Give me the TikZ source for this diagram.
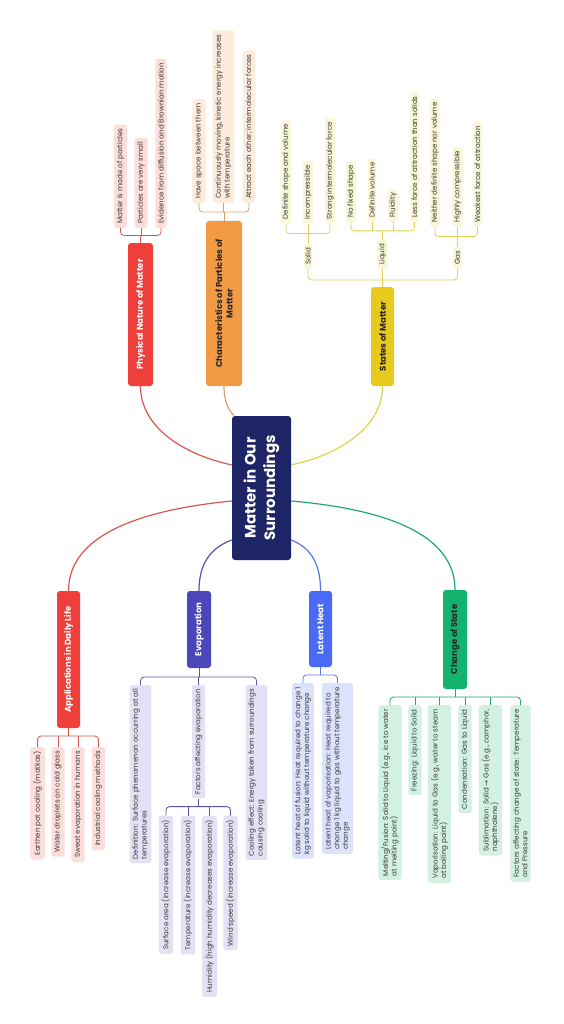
\documentclass[tikz,border=0pt]{standalone}
\usepackage{fontspec}
\setmainfont{Poppins}
\newfontfamily\dejavu{DejaVu Sans}
\usetikzlibrary{calc}
\definecolor{navy}{HTML}{1E2566}
\definecolor{cred}{HTML}{EE3F3A}
\definecolor{redpale}{HTML}{FCDEDC}
\definecolor{redline}{HTML}{D95550}
\definecolor{corange}{HTML}{F39A45}
\definecolor{orangepale}{HTML}{FDEBDB}
\definecolor{orangeline}{HTML}{D6A06A}
\definecolor{cyellow}{HTML}{E8C91E}
\definecolor{yellowpale}{HTML}{FAF6D8}
\definecolor{yellowline}{HTML}{E3D04E}
\definecolor{cindigo}{HTML}{4B46B9}
\definecolor{indigopale}{HTML}{E2E2F4}
\definecolor{indigoline}{HTML}{5656B0}
\definecolor{cblue}{HTML}{4A6AF5}
\definecolor{bluepale}{HTML}{DCE2FB}
\definecolor{blueline}{HTML}{5877E6}
\definecolor{cgreen}{HTML}{14B26F}
\definecolor{greenpale}{HTML}{D3F1E3}
\definecolor{greenline}{HTML}{20A874}
\definecolor{leaftext}{HTML}{3A3A3A}
\begin{document}
\begin{tikzpicture}[x=1pt,y=-1pt,
  topic/.style={rotate=90, rounded corners=3pt, inner sep=0pt, align=center,
    font=\fontsize{8.5}{10.5}\selectfont\bfseries},
  leaf/.style={rotate=90, rounded corners=2.5pt, align=left, inner xsep=4pt, inner ysep=3pt,
    text=leaftext, font=\fontsize{7.1}{8.6}\selectfont},
  rleaf/.style={leaf, fill=redpale},
  oleaf/.style={leaf, fill=orangepale},
  yleaf/.style={leaf, fill=yellowpale, inner ysep=1.5pt},
  ileaf/.style={leaf, fill=indigopale},
  bleaf/.style={leaf, fill=bluepale},
  gleaf/.style={leaf, fill=greenpale},
  conn/.style={line width=0.8pt, rounded corners=3.5pt},
  mainc/.style={line width=1.2pt}
]
\useasboundingbox (0,0) rectangle (563,1024);
\fill[white] (0,0) rectangle (563,1024);

% ---------- central node ----------
\node[rotate=90, fill=navy, text=white, rounded corners=3pt, minimum width=144pt, minimum height=59pt,
  align=center, font=\fontsize{15}{19.5}\selectfont\bfseries] (ctr) at (261.5,488) {Matter in Our\\Surroundings};

% ---------- main topics ----------
\node[topic, fill=cred, text=white, minimum width=143pt, minimum height=25pt] (phys) at (140.5,314.5) {Physical Nature of Matter};
\node[topic, fill=corange, text=black!85, minimum width=165pt, minimum height=36pt] (char) at (224,303.5) {Characteristics of Particles of\\Matter};
\node[topic, fill=cyellow, text=black!85, minimum width=99pt, minimum height=23pt] (states) at (382.5,336.5) {States of Matter};
\node[topic, fill=cred, text=white, minimum width=137pt, minimum height=23pt] (app) at (68.5,659.5) {Applications in Daily Life};
\node[topic, fill=cindigo, text=white, minimum width=77pt, minimum height=24pt] (evap) at (199,629.5) {Evaporation};
\node[topic, fill=cblue, text=white, minimum width=76pt, minimum height=23pt] (lat) at (320.5,629) {Latent Heat};
\node[topic, fill=cgreen, text=black!85, minimum width=99pt, minimum height=24pt] (cos) at (455,639.5) {Change of State};

% ---------- centre connectors ----------
\draw[mainc, redline] ($(ctr.north east)!0.34!(ctr.north west)$) .. controls (185,455) and (140.5,428) .. (phys.west);
\draw[mainc, orangeline] (char.west) .. controls (224,402) and (229,411) .. ($(ctr.north east)!0.04!(ctr.south east)$);
\draw[mainc, yellowline] ($(ctr.south east)!0.34!(ctr.south west)$) .. controls (338,455) and (382.5,428) .. (states.west);
\draw[mainc, redline] ($(ctr.north east)!0.59!(ctr.north west)$) .. controls (140,510) and (68.5,535) .. (app.east);
\draw[mainc, indigoline] ($(ctr.north east)!0.86!(ctr.north west)$) .. controls (207,549) and (199,568) .. (evap.east);
\draw[mainc, blueline] ($(ctr.south east)!0.86!(ctr.south west)$) .. controls (314,549) and (320.5,568) .. (lat.east);
\draw[mainc, greenline] ($(ctr.south east)!0.59!(ctr.south west)$) .. controls (395,510) and (455,538) .. (cos.east);

% ---------- Physical Nature of Matter ----------
\node[rleaf, anchor=west] (p1) at (120.5,228) {Matter is made of particles};
\node[rleaf, anchor=west] (p2) at (141,228) {Particles are very small};
\node[rleaf, anchor=west] (p3) at (161,228) {Evidence from diffusion and Brownian motion};
\coordinate (pbk) at (0,235.5);
\draw[conn, redline] (phys.east) -- (phys.east |- pbk);
\draw[conn, redline] (p1.west) |- (p3.west |- pbk) -- (p3.west);
\draw[conn, redline] (p2.west) -- (p2.west |- pbk);

% ---------- Characteristics ----------
\node[oleaf, anchor=west] (c1) at (199,203) {Have space between them};
\node[oleaf, anchor=west] (c2) at (223.5,203) {Continuously moving, kinetic energy increases\\with temperature};
\node[oleaf, anchor=west] (c3) at (249,203) {Attract each other; intermolecular forces};
\coordinate (cbk) at (0,212);
\draw[conn, orangeline] (char.east) -- (char.east |- cbk);
\draw[conn, orangeline] (c1.west) |- (c3.west |- cbk) -- (c3.west);
\draw[conn, orangeline] (c2.west) -- (c2.west |- cbk);

% ---------- States of Matter ----------
\node[yleaf, anchor=west] (solid) at (308,269) {Solid};
\node[yleaf, anchor=west] (liquid) at (382.5,269) {Liquid};
\node[yleaf, anchor=west] (gas) at (457.5,269) {Gas};
\coordinate (sbk) at (0,280);
\draw[conn, yellowline] (states.east) -- (states.east |- sbk);
\draw[conn, yellowline] (solid.west) |- (gas.west |- sbk) -- (gas.west);
\draw[conn, yellowline] (liquid.west) -- (liquid.west |- sbk);

\node[yleaf, anchor=west] (s1) at ($(solid.east)+(-22,-20)$) {Definite shape and volume};
\node[yleaf, anchor=west] (s2) at ($(solid.east)+(0,-20)$) {Incompressible};
\node[yleaf, anchor=west] (s3) at ($(solid.east)+(22,-20)$) {Strong intermolecular force};
\coordinate (ssb) at ($(solid.east)+(0,-10)$);
\draw[conn, yellowline] (solid.east) -- (ssb);
\draw[conn, yellowline] (s1.west) |- (s3.west |- ssb) -- (s3.west);
\draw[conn, yellowline] (s2.west) -- (s2.west |- ssb);

\node[yleaf, anchor=west] (l1) at ($(liquid.east)+(-31.5,-18)$) {No fixed shape};
\node[yleaf, anchor=west] (l2) at ($(liquid.east)+(-10.5,-18)$) {Definite volume};
\node[yleaf, anchor=west] (l3) at ($(liquid.east)+(10.5,-18)$) {Fluidity};
\node[yleaf, anchor=west] (l4) at ($(liquid.east)+(32,-18)$) {Less force of attraction than solids};
\coordinate (lsb) at ($(liquid.east)+(0,-9)$);
\draw[conn, yellowline] (liquid.east) -- (lsb);
\draw[conn, yellowline] (l1.west) |- (l4.west |- lsb) -- (l4.west);
\draw[conn, yellowline] (l2.west) -- (l2.west |- lsb);
\draw[conn, yellowline] (l3.west) -- (l3.west |- lsb);

\node[yleaf, anchor=west] (g1) at ($(gas.east)+(-22.5,-20)$) {Neither definite shape nor volume};
\node[yleaf, anchor=west] (g2) at ($(gas.east)+(0,-20)$) {Highly compressible};
\node[yleaf, anchor=west] (g3) at ($(gas.east)+(20,-20)$) {Weakest force of attraction};
\coordinate (gsb) at ($(gas.east)+(0,-10)$);
\draw[conn, yellowline] (gas.east) -- (gsb);
\draw[conn, yellowline] (g1.west) |- (g3.west |- gsb) -- (g3.west);
\draw[conn, yellowline] (g2.west) -- (g2.west |- gsb);

% ---------- Applications ----------
\node[rleaf, anchor=east] (a1) at (37.5,747) {Earthen pot cooling (matkas)};
\node[rleaf, anchor=east] (a2) at (58,747) {Water droplets on cold glass};
\node[rleaf, anchor=east] (a3) at (78,747) {Sweat evaporation in humans};
\node[rleaf, anchor=east] (a4) at (98.5,747) {Industrial cooling methods};
\coordinate (abk) at (0,736);
\draw[conn, redline] (app.west) -- (app.west |- abk);
\draw[conn, redline] (a1.east) |- (a4.east |- abk) -- (a4.east);
\draw[conn, redline] (a2.east) -- (a2.east |- abk);
\draw[conn, redline] (a3.east) -- (a3.east |- abk);

% ---------- Evaporation ----------
\node[ileaf, anchor=east] (e1) at (140.5,685) {Definition: Surface phenomenon occurring at all\\temperatures};
\node[ileaf, anchor=east] (e2) at (198.5,685) {Factors affecting evaporation};
\node[ileaf, anchor=east] (e3) at (256.5,685) {Cooling effect: Energy taken from surroundings\\causing cooling};
\coordinate (ebk) at (0,677);
\draw[conn, indigoline] (evap.west) -- (evap.west |- ebk);
\draw[conn, indigoline] (e1.east) |- (e3.east |- ebk) -- (e3.east);
\draw[conn, indigoline] (e2.east) -- (e2.east |- ebk);

\node[ileaf, anchor=east] (f1) at ($(e2.west)+(-32.5,17)$) {Surface area (increase evaporation)};
\node[ileaf, anchor=east] (f2) at ($(e2.west)+(-10.5,17)$) {Temperature (increase evaporation)};
\node[ileaf, anchor=east] (f3) at ($(e2.west)+(11,17)$) {Humidity (high humidity decreases evaporation)};
\node[ileaf, anchor=east] (f4) at ($(e2.west)+(32,17)$) {Wind speed (increase evaporation)};
\coordinate (fbk) at ($(e2.west)+(0,8)$);
\draw[conn, indigoline] (e2.west) -- (fbk);
\draw[conn, indigoline] (f1.east) |- (f4.east |- fbk) -- (f4.east);
\draw[conn, indigoline] (f2.east) -- (f2.east |- fbk);
\draw[conn, indigoline] (f3.east) -- (f3.east |- fbk);

% ---------- Latent Heat ----------
\node[bleaf, anchor=east] (h1) at (303,683) {Latent heat of fusion: Heat required to change 1\\kg solid to liquid without temperature change};
\node[bleaf, anchor=east] (h2) at (337.5,683) {Latent heat of vaporisation: Heat required to\\change 1 kg liquid to gas without temperature\\change};
\coordinate (hbk) at (0,675);
\draw[conn, blueline] (lat.west) -- (lat.west |- hbk);
\draw[conn, blueline] (h1.east) |- (h2.east |- hbk) -- (h2.east);

% ---------- Change of State ----------
\node[gleaf, anchor=east] (m1) at (390,705) {Melting/Fusion: Solid to Liquid (e.g., ice to water\\at melting point)};
\node[gleaf, anchor=east] (m2) at (415,705) {Freezing: Liquid to Solid};
\node[gleaf, anchor=east] (m3) at (439.5,705) {Vaporisation: Liquid to Gas (e.g., water to steam\\at boiling point)};
\node[gleaf, anchor=east] (m4) at (465,705) {Condensation: Gas to Liquid};
\node[gleaf, anchor=east] (m5) at (490.5,705) {Sublimation: Solid {\dejavu →} Gas (e.g., camphor,\\naphthalene)};
\node[gleaf, anchor=east] (m6) at (520.5,705) {Factors affecting change of state: Temperature\\and Pressure};
\coordinate (mbk) at (0,697);
\draw[conn, greenline] (cos.west) -- (cos.west |- mbk);
\draw[conn, greenline] (m1.east) |- (m6.east |- mbk) -- (m6.east);
\draw[conn, greenline] (m2.east) -- (m2.east |- mbk);
\draw[conn, greenline] (m3.east) -- (m3.east |- mbk);
\draw[conn, greenline] (m4.east) -- (m4.east |- mbk);
\draw[conn, greenline] (m5.east) -- (m5.east |- mbk);
\end{tikzpicture}
\end{document}
